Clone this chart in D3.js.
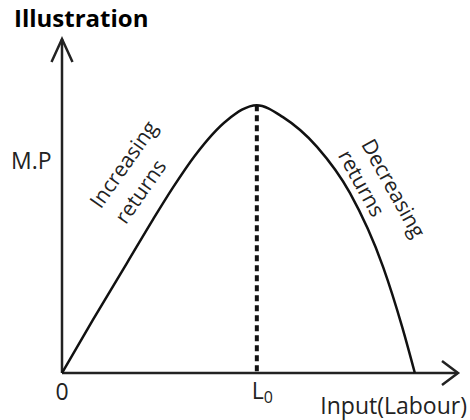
<!DOCTYPE html>
<meta charset="utf-8">
<head>
  <title>Marginal product illustration</title>
</head>

<style>
body { margin: 0; background: #fff; }
text { font-family: "Open Sans", "Noto Sans", sans-serif; fill: #222; }
.axis-line { stroke: #222; stroke-width: 2.5; fill: none; }
.curve { stroke: #111; stroke-width: 2.5; fill: none; }
.peak { stroke: #111; stroke-width: 4; stroke-dasharray: 6 4; }
</style>

<body>
  <svg width="470" height="420"></svg>

  <script src="https://cdn.jsdelivr.net/npm/d3@7/dist/d3.min.js"></script>

  <script>
// labour input (0..10 axis units) and marginal product
var labour = [0, 0.78, 1.64, 2.3, 2.8, 3.35, 4.17, 4.92, 5.58, 6.44, 7.27, 8.11, 8.59, 8.91];
var marginalProduct = [0, 1.59, 3.29, 4.6, 5.55, 6.5, 7.57, 8.02, 7.66, 6.77, 5.39, 3.17, 1.38, 0];
var peakLabour = 4.92;
var axisMax = 10;

var svg = d3.select('svg');

var xScale = d3.scaleLinear().domain([0, axisMax]).range([62, 458]);
var yScale = d3.scaleLinear().domain([0, axisMax]).range([373, 39]);

var points = labour.map(function(d, i) {
  return [d, marginalProduct[i]];
});

// title
svg.append('text')
  .attr('x', 14)
  .attr('y', 27)
  .style('font-weight', 'bold')
  .style('font-size', '24px')
  .style('fill', '#000')
  .text('Illustration');

// axes with open arrow heads
svg.append('line').attr('class', 'axis-line')
  .attr('x1', xScale(0)).attr('y1', yScale(0))
  .attr('x2', xScale(0)).attr('y2', yScale(axisMax));
svg.append('path').attr('class', 'axis-line')
  .attr('d', 'M' + (xScale(0) - 10.5) + ',' + (yScale(axisMax) + 23) +
    'L' + xScale(0) + ',' + yScale(axisMax) +
    'L' + (xScale(0) + 10.5) + ',' + (yScale(axisMax) + 23));

svg.append('line').attr('class', 'axis-line')
  .attr('x1', xScale(0)).attr('y1', yScale(0))
  .attr('x2', xScale(axisMax)).attr('y2', yScale(0));
svg.append('path').attr('class', 'axis-line')
  .attr('d', 'M' + (xScale(axisMax) - 16) + ',' + (yScale(0) - 12) +
    'L' + xScale(axisMax) + ',' + yScale(0) +
    'L' + (xScale(axisMax) - 16) + ',' + (yScale(0) + 12));

// dashed line from the peak down to L0
svg.append('line').attr('class', 'peak')
  .attr('x1', xScale(peakLabour)).attr('y1', yScale(d3.max(marginalProduct)))
  .attr('x2', xScale(peakLabour)).attr('y2', yScale(0));

// MP curve
var line = d3.line()
  .x(function(d) { return xScale(d[0]); })
  .y(function(d) { return yScale(d[1]); })
  .curve(d3.curveMonotoneX);

svg.append('path').attr('class', 'curve').attr('d', line(points));

// labels
svg.append('text')
  .attr('x', 11).attr('y', 169)
  .style('font-size', '23px')
  .text('M.P');

svg.append('text')
  .attr('x', xScale(0)).attr('y', 400)
  .attr('text-anchor', 'middle')
  .style('font-size', '23px')
  .text('0');

var l0 = svg.append('text')
  .attr('x', xScale(peakLabour) - 5).attr('y', 399)
  .style('font-size', '23px')
  .text('L');
l0.append('tspan')
  .attr('dy', 4)
  .style('font-size', '16px')
  .text('0');

svg.append('text')
  .attr('x', 467).attr('y', 414)
  .attr('text-anchor', 'end')
  .style('font-size', '23px')
  .text('Input(Labour)');

function rotatedLabel(txt, cx, cy, angle) {
  svg.append('text')
    .attr('transform', 'translate(' + cx + ',' + cy + ') rotate(' + angle + ')')
    .attr('text-anchor', 'middle')
    .attr('dominant-baseline', 'central')
    .style('font-size', '21px')
    .text(txt);
}

rotatedLabel('Increasing', 123, 164, -55);
rotatedLabel('returns', 140, 191, -55);
rotatedLabel('Decreasing', 394, 188, 61);
rotatedLabel('returns', 362, 183, 61);
  </script>
</body>
</html>
